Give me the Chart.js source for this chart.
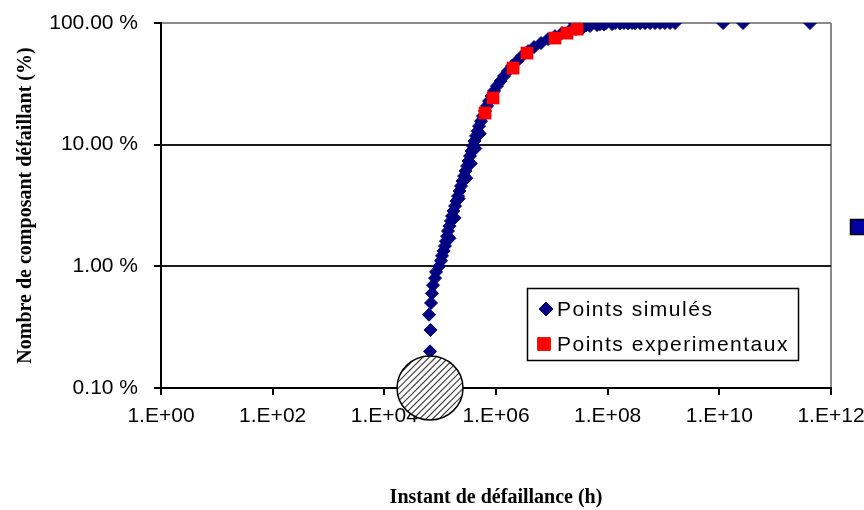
<!DOCTYPE html>
<html>
<head>
<meta charset="utf-8">
<script src="https://cdn.jsdelivr.net/npm/chart.js@4.4.1/dist/chart.umd.min.js"></script>
<style>
  html, body { margin: 0; padding: 0; background: #fff; }
  #wrap { width: 864px; height: 510px; position: relative; }
</style>
</head>
<body>
<div id="wrap"><canvas id="c" width="864" height="510"></canvas></div>
<script>
// Simulated failure times (h) and cumulative share of failed components (%)
const simulatedHours = [
  6.58e4, 6.72e4, 6.31e4, 6.86e4, 7.14e4, 7.45e4, 8.09e4, 8.43e4, 9.54e4,
  1.035e5, 1.08e5, 1.15e5, 1.22e5, 1.27e5, 1.33e5, 1.38e5, 1.47e5, 1.56e5,
  1.63e5, 1.73e5, 1.85e5, 1.96e5, 2.09e5, 2.22e5, 2.36e5, 2.51e5, 2.68e5,
  2.84e5, 3.03e5, 3.22e5, 3.42e5, 3.65e5, 3.87e5, 4.12e5, 4.39e5, 4.67e5,
  4.97e5, 5.39e5, 5.85e5, 6.36e5, 6.90e5, 7.50e5, 8.31e5, 9.21e5,
  1.04e6, 1.21e6, 1.39e6, 1.64e6, 1.94e6, 2.38e6, 2.92e6, 3.75e6, 4.80e6,
  6.40e6, 8.55e6, 1.14e7, 1.52e7, 2.03e7, 2.71e7, 3.62e7, 4.83e7, 6.45e7,
  8.61e7, 1.20e8, 1.66e8, 2.32e8, 3.09e8, 3.80e8, 4.67e8, 5.74e8, 7.05e8,
  8.67e8, 1.06e9, 1.31e9, 1.61e9, 1.17e10, 2.66e10, 4.21e11,
  2.60e7, 3.47e7, 4.83e7, 6.72e7, 9.35e7, 1.36e8, 1.96e8, 2.73e8, 4.10e7, 7.30e7,
  1.47e5, 1.81e5, 2.15e5, 2.94e5, 3.53e5, 4.26e5, 5.12e5
];
const simulatedPct = [
  0.20, 0.30, 0.40, 0.50, 0.60, 0.70, 0.80, 0.90, 1.00,
  1.11, 1.22, 1.34, 1.47, 1.61, 1.77, 1.95, 2.14, 2.36,
  2.59, 2.85, 3.13, 3.44, 3.78, 4.16, 4.57, 5.02, 5.52,
  6.07, 6.67, 7.33, 8.06, 8.86, 9.74, 10.7, 11.8, 12.9,
  14.2, 15.6, 17.2, 18.9, 20.8, 22.8, 25.1, 27.6,
  30.3, 33.3, 36.6, 40.3, 44.3, 48.6, 53.5, 58.7, 63.4,
  68.4, 73.8, 78.0, 82.6, 85.7, 89.1, 91.6, 94.4, 96.2,
  97.1, 98.0, 98.9, 99.3, 99.6, 99.7, 99.75, 99.8, 99.85,
  99.9, 99.92, 99.94, 99.96, 99.97, 99.98, 100,
  98.5, 99.5, 99.6, 99.8, 99.9, 99.95, 100, 100, 95.5, 97.5,
  1.7, 2.5, 3.6, 5.3, 7.0, 9.3, 12.3
];

// Experimental failures
const experimentalHours = [6.36e5, 8.85e5, 2.02e6, 3.59e6, 1.14e7, 1.87e7, 2.83e7];
const experimentalPct   = [18.2, 24.2, 42.6, 56.6, 75.2, 82.6, 89.1];

const seriesNames = ['Points simulés', 'Points experimentaux'];
const xTickExponents = [0, 2, 4, 6, 8, 10, 12];
const yTickValues = [0.1, 1, 10, 100];
const xTitle = 'Instant de défaillance (h)';
const yTitle = 'Nombre de composant défaillant (%)';

// Hatched marker placed at the origin of the time axis
const markedRegion = { hours: 6.58e4, pct: 0.1 };

const NAVY = '#000080';
const RED = '#ff0000';

function toPoints(xs, ys) {
  return xs.map((x, i) => ({ x: x, y: ys[i] }));
}

function drawMarker(ctx, style, x, y, r, color) {
  ctx.save();
  ctx.fillStyle = color;
  ctx.strokeStyle = color;
  ctx.lineWidth = 1;
  ctx.beginPath();
  if (style === 'rectRot') {
    ctx.moveTo(x - r, y);
    ctx.lineTo(x, y - r);
    ctx.lineTo(x + r, y);
    ctx.lineTo(x, y + r);
    ctx.closePath();
  } else {
    const s = r * Math.SQRT1_2;
    ctx.rect(x - s, y - s, 2 * s, 2 * s);
  }
  ctx.fill();
  ctx.stroke();
  ctx.restore();
}

const overlayPlugin = {
  id: 'overlay',
  afterDraw(chart) {
    const ctx = chart.ctx;
    const xs = chart.scales.x, ys = chart.scales.y;

    // hatched ellipse over the start of the curve
    const cx = xs.getPixelForValue(markedRegion.hours);
    const cy = ys.getPixelForValue(markedRegion.pct);
    const rx = 33, ry = 32;
    ctx.save();
    ctx.beginPath();
    ctx.ellipse(cx, cy, rx, ry, 0, 0, Math.PI * 2);
    ctx.fillStyle = '#fff';
    ctx.fill();
    ctx.clip();
    ctx.strokeStyle = '#3a3a3a';
    ctx.lineWidth = 1.2;
    for (let d = -90; d <= 90; d += 6.5) {
      ctx.beginPath();
      ctx.moveTo(cx + d - 45, cy + 45);
      ctx.lineTo(cx + d + 45, cy - 45);
      ctx.stroke();
    }
    ctx.restore();
    ctx.save();
    ctx.beginPath();
    ctx.ellipse(cx, cy, rx, ry, 0, 0, Math.PI * 2);
    ctx.strokeStyle = '#000';
    ctx.lineWidth = 1.5;
    ctx.stroke();
    ctx.restore();

    // legend box
    ctx.save();
    ctx.fillStyle = '#fff';
    ctx.fillRect(527, 288, 271, 72);
    ctx.strokeStyle = '#000';
    ctx.lineWidth = 1.5;
    ctx.strokeRect(527.5, 288.5, 271, 72);
    ctx.font = '21px "Liberation Sans", Arial, sans-serif';
    ctx.fillStyle = '#000';
    ctx.textBaseline = 'middle';
    ctx.textAlign = 'left';
    try { ctx.letterSpacing = '1.5px'; } catch (e) {}
    chart.data.datasets.forEach((ds, i) => {
      const ly = 309 + i * 35;
      if (ds.pointStyle === 'rectRot') {
        drawMarker(ctx, 'rectRot', 546, ly, 7, ds.backgroundColor);
      } else {
        drawMarker(ctx, 'rect', 544, ly, 9, ds.backgroundColor);
      }
      ctx.fillStyle = '#000';
      ctx.fillText(ds.label, 557, ly + 1);
    });
    ctx.restore();

    // key of a neighbouring legend, cut by the frame edge
    ctx.save();
    ctx.fillStyle = '#0000a0';
    ctx.fillRect(850, 219, 16, 15);
    ctx.strokeStyle = '#000';
    ctx.lineWidth = 1.5;
    ctx.strokeRect(850.5, 219.5, 16, 15);
    ctx.restore();
  }
};

new Chart(document.getElementById('c'), {
  type: 'scatter',
  data: {
    datasets: [
      {
        label: seriesNames[0],
        data: toPoints(simulatedHours, simulatedPct),
        pointStyle: 'rectRot',
        pointRadius: 6.5,
        pointBorderWidth: 1,
        backgroundColor: NAVY,
        borderColor: NAVY,
        order: 2
      },
      {
        label: seriesNames[1],
        data: toPoints(experimentalHours, experimentalPct),
        pointStyle: 'rect',
        pointRadius: 9,
        pointBorderWidth: 0,
        backgroundColor: RED,
        borderColor: RED,
        order: 1
      }
    ]
  },
  options: {
    responsive: false,
    devicePixelRatio: 1,
    animation: false,
    events: [],
    layout: { padding: { left: 0, top: 23, right: 33, bottom: 0 } },
    plugins: {
      legend: { display: false },
      tooltip: { enabled: false }
    },
    scales: {
      x: {
        type: 'logarithmic',
        position: 'bottom',
        min: 1,
        max: 1e12,
        afterBuildTicks: (s) => { s.ticks = xTickExponents.map(e => ({ value: Math.pow(10, e) })); },
        afterFit: (s) => { s.height = 122; s.paddingLeft = 0; s.paddingRight = 0; },
        ticks: {
          autoSkip: false,
          maxRotation: 0,
          minRotation: 0,
          padding: 9,
          color: '#000',
          font: { family: '"Liberation Sans", Arial, sans-serif', size: 21 },
          callback: (v) => '1.E+' + String(Math.round(Math.log10(v))).padStart(2, '0')
        },
        grid: {
          drawOnChartArea: true,
          color: (c) => (c.tick && c.tick.value === 1e12) ? '#8a8a8a' : 'rgba(0,0,0,0)',
          lineWidth: 2,
          drawTicks: true,
          tickLength: 7,
          tickColor: '#000',
          tickWidth: 2
        },
        border: { display: true, color: '#000', width: 2 },
        title: {
          display: true,
          text: xTitle,
          color: '#000',
          font: { family: '"Liberation Serif", "Times New Roman", serif', size: 20, weight: 'bold' },
          padding: { top: 0, bottom: 0 }
        }
      },
      y: {
        type: 'logarithmic',
        position: 'left',
        min: 0.1,
        max: 100,
        afterBuildTicks: (s) => { s.ticks = yTickValues.map(v => ({ value: v })); },
        afterFit: (s) => { s.width = 161; s.paddingTop = 0; s.paddingBottom = 0; },
        ticks: {
          padding: 16,
          color: '#000',
          font: { family: '"Liberation Sans", Arial, sans-serif', size: 21 },
          callback: (v) => Number(v).toFixed(2) + ' %'
        },
        grid: {
          color: (c) => {
            const v = c.tick ? c.tick.value : null;
            if (v === 100) return '#8a8a8a';
            if (v === 0.1) return 'rgba(0,0,0,0)';
            return '#1a1a1a';
          },
          lineWidth: 2,
          drawTicks: true,
          tickLength: 7,
          tickColor: '#000',
          tickWidth: 2
        },
        border: { display: true, color: '#000', width: 2 },
        title: {
          display: true,
          text: yTitle,
          color: '#000',
          font: { family: '"Liberation Serif", "Times New Roman", serif', size: 20, weight: 'bold' },
          padding: { top: 14, bottom: 0 }
        }
      }
    }
  },
  plugins: [overlayPlugin]
});
</script>
</body>
</html>
